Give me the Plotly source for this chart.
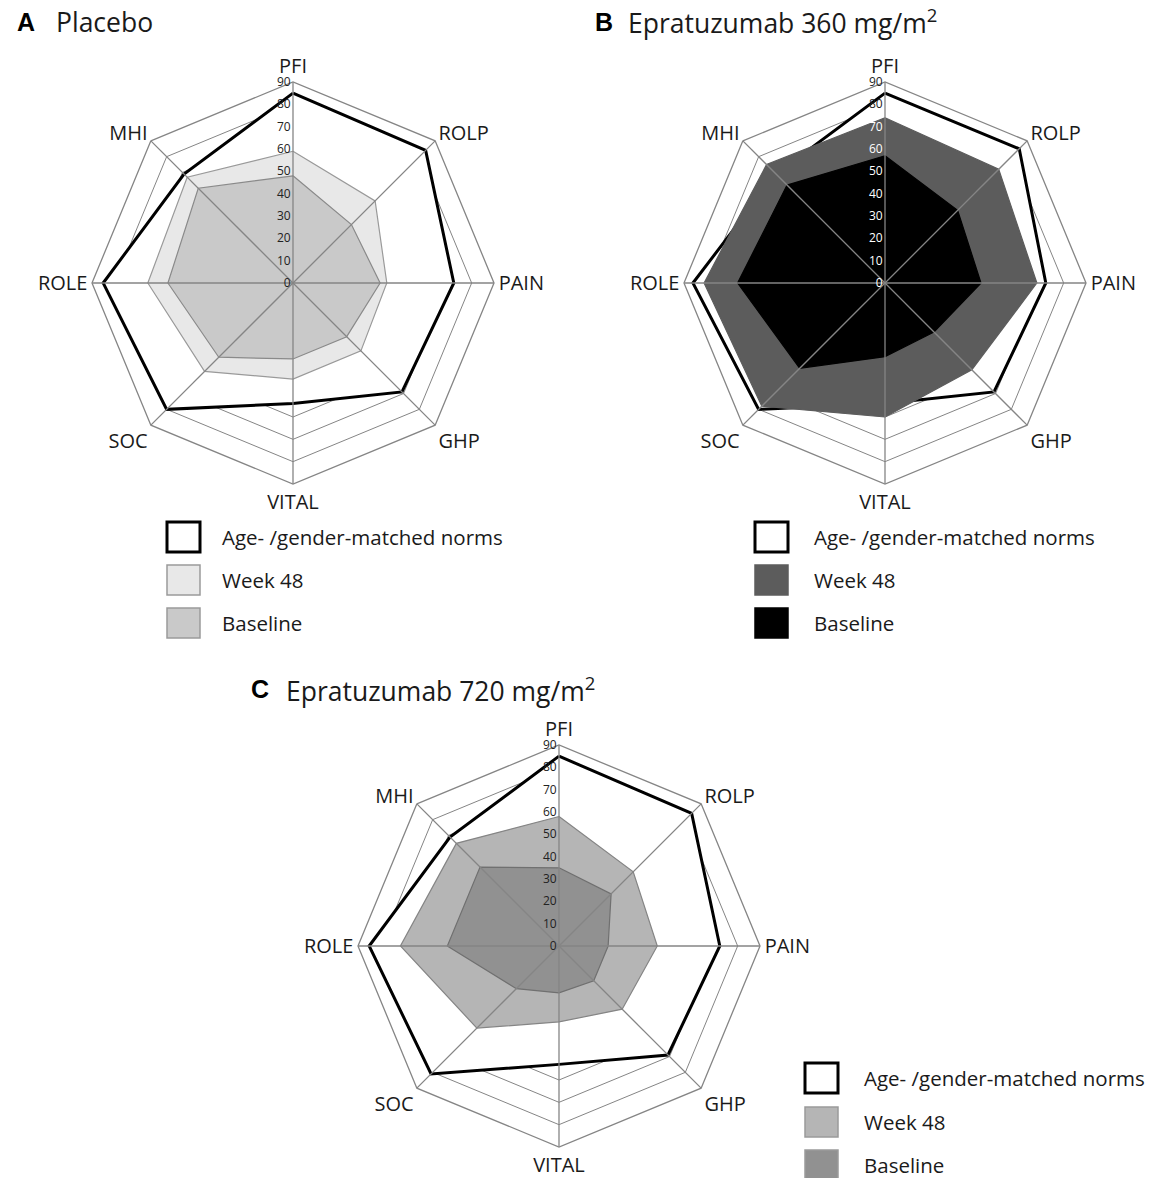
import plotly.graph_objects as go

W, H = 1152, 1178

categories = ["PFI", "ROLP", "PAIN", "GHP", "VITAL", "SOC", "ROLE", "MHI"]
radial_ticks = [0, 10, 20, 30, 40, 50, 60, 70, 80, 90]
series_names = ["Age- /gender-matched norms", "Week 48", "Baseline"]

# Panel A: Placebo
a_norms = [85, 84, 72, 69, 54, 80, 85, 69]
a_week48 = [59, 52, 42, 43, 43, 56, 65, 67]
a_baseline = [48, 37, 39, 34, 34, 47, 56, 60]

# Panel B: Epratuzumab 360 mg/m2
b_norms = [85, 85, 72, 69, 54, 80, 86, 69]
b_week48 = [74, 72, 68, 55, 60, 78, 81, 75]
b_baseline = [57, 46, 43, 31, 33, 54, 66, 62]

# Panel C: Epratuzumab 720 mg/m2
c_norms = [85, 84, 72, 69, 53, 81, 85, 69]
c_week48 = [58, 47, 44, 40, 34, 52, 71, 65]
c_baseline = [35, 33, 22, 22, 21, 27, 50, 50]

FONT = "Open Sans"
GRID = "#858585"
R = 201  # px radius of polar area


def px(x):
    return x / W


def py(y):
    return 1 - y / H


panels = [
    dict(key="polar", cx=293, cy=283, letter="A", title="Placebo", lx=15, tx=54, ty=22,
         data=(a_norms, a_week48, a_baseline),
         fills=("#e8e8e8", "#c9c9c9"), edges=("#9a9a9a", "#8a8a8a"),
         tickcolors=["#222"] * 10,
         leg_x=167, leg_y=(522, 565, 608), leg_tx=220),
    dict(key="polar2", cx=885, cy=283, letter="B", title="Epratuzumab 360 mg/m<sup>2</sup>", lx=593, tx=626, ty=22,
         data=(b_norms, b_week48, b_baseline),
         fills=("#5c5c5c", "#000000"), edges=("#5c5c5c", "#000000"),
         tickcolors=["#ffffff"] * 8 + ["#222"] * 2,
         leg_x=755, leg_y=(522, 565, 608), leg_tx=812),
    dict(key="polar3", cx=559, cy=946, letter="C", title="Epratuzumab 720 mg/m<sup>2</sup>", lx=249, tx=284, ty=689,
         data=(c_norms, c_week48, c_baseline),
         fills=("#b5b5b5", "#919191"), edges=("#858585", "#707070"),
         tickcolors=["#222"] * 10,
         leg_x=805, leg_y=(1063, 1107, 1150), leg_tx=862),
]


def closed(vals):
    return list(vals) + [vals[0]]


fig = go.Figure()
annotations = []
shapes = []
layout_polars = {}

for p in panels:
    sub = p["key"]
    norms, week48, baseline = p["data"]
    theta_c = closed(categories)
    fig.add_trace(go.Scatterpolar(r=closed(norms), theta=theta_c, subplot=sub, mode="lines",
                                  fill="toself", fillcolor="#ffffff",
                                  line=dict(color="#000000", width=3), name=series_names[0],
                                  showlegend=False))
    fig.add_trace(go.Scatterpolar(r=closed(week48), theta=theta_c, subplot=sub, mode="lines",
                                  fill="toself", fillcolor=p["fills"][0],
                                  line=dict(color=p["edges"][0], width=1.2), name=series_names[1],
                                  showlegend=False))
    fig.add_trace(go.Scatterpolar(r=closed(baseline), theta=theta_c, subplot=sub, mode="lines",
                                  fill="toself", fillcolor=p["fills"][1],
                                  line=dict(color=p["edges"][1], width=1.2), name=series_names[2],
                                  showlegend=False))
    # spokes drawn above the filled areas
    sr, st = [], []
    for c in categories:
        sr += [radial_ticks[0], radial_ticks[-1], None]
        st += [c, c, None]
    fig.add_trace(go.Scatterpolar(r=sr, theta=st, subplot=sub, mode="lines",
                                  line=dict(color=GRID, width=1.3), showlegend=False,
                                  hoverinfo="skip"))

    ticktext = ["<span style='color:%s'>%d</span>" % (col, v)
                for v, col in zip(radial_ticks, p["tickcolors"])]
    cx, cy = p["cx"], p["cy"]
    layout_polars[sub] = dict(
        domain=dict(x=[px(cx - R), px(cx + R)], y=[py(cy + R), py(cy - R)]),
        gridshape="linear",
        bgcolor="rgba(0,0,0,0)",
        radialaxis=dict(range=[0, 90], tickvals=radial_ticks, ticktext=ticktext,
                        showgrid=True, gridcolor=GRID, gridwidth=1.3, showline=False, ticks="",
                        angle=90, side="counterclockwise", tickangle=90,
                        tickfont=dict(family=FONT, size=12, color="#222")),
        angularaxis=dict(type="category", categoryarray=categories, direction="clockwise",
                         rotation=90, showgrid=False, showline=True, linecolor=GRID, linewidth=1.3,
                         ticks="", tickfont=dict(family=FONT, size=20, color="#1a1a1a")),
    )

    annotations.append(dict(x=px(p["lx"]), y=py(p["ty"]), xref="paper", yref="paper",
                            text="<b>%s</b>" % p["letter"], showarrow=False, xanchor="left",
                            yanchor="middle", font=dict(family="Liberation Sans", size=25, color="#000")))
    annotations.append(dict(x=px(p["tx"]), y=py(p["ty"]), xref="paper", yref="paper",
                            text=p["title"], showarrow=False, xanchor="left", yanchor="middle",
                            font=dict(family=FONT, size=26.5, color="#1a1a1a")))

    # legend
    box_fill = ["#ffffff", p["fills"][0], p["fills"][1]]
    box_line = [dict(color="#000", width=3), dict(color="#9a9a9a", width=1.5), dict(color="#9a9a9a", width=1.5)]
    if p["letter"] == "B":
        box_line[1] = dict(color="#5c5c5c", width=1.5)
        box_line[2] = dict(color="#000", width=1.5)
    for i, name in enumerate(series_names):
        y0 = p["leg_y"][i]
        shapes.append(dict(type="rect", xref="paper", yref="paper",
                           x0=px(p["leg_x"]), x1=px(p["leg_x"] + 33),
                           y0=py(y0 + 30), y1=py(y0),
                           fillcolor=box_fill[i], line=box_line[i]))
        annotations.append(dict(x=px(p["leg_tx"]), y=py(y0 + 15), xref="paper", yref="paper",
                                text=name, showarrow=False, xanchor="left", yanchor="middle",
                                font=dict(family=FONT, size=20.5, color="#1a1a1a")))

fig.update_layout(
    width=W, height=H,
    margin=dict(l=0, r=0, t=0, b=0),
    paper_bgcolor="#ffffff", plot_bgcolor="#ffffff",
    showlegend=False,
    annotations=annotations, shapes=shapes,
    **layout_polars,
)

# remove the page's default 8px body margin so the figure fills the window exactly
fig.write_html("out.html", config={"displayModeBar": False},
               post_script="document.body.style.margin='0px';")
